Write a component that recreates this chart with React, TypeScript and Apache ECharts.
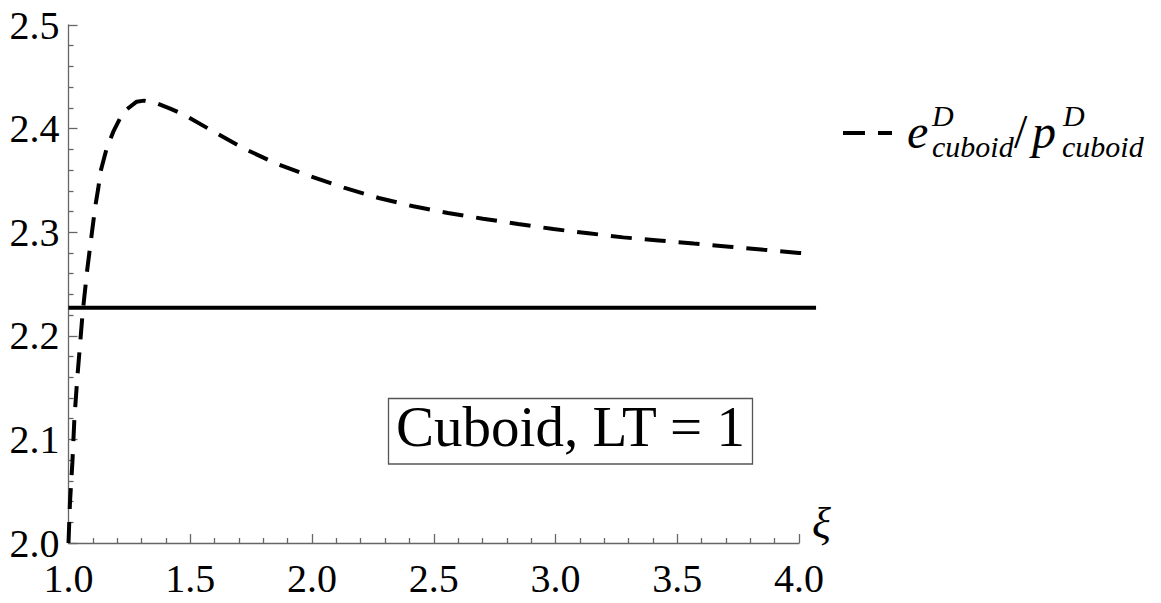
import React, { useEffect, useRef } from "react";
import * as echarts from "echarts";

// e^D_cuboid / p^D_cuboid as a function of xi
const curveX = [
  1.0, 1.006, 1.016, 1.024, 1.036, 1.058, 1.077, 1.098, 1.11, 1.122, 1.132,
  1.157, 1.184, 1.225, 1.28, 1.31, 1.362, 1.42, 1.478, 1.589, 1.719, 1.855,
  1.992, 2.131, 2.274, 2.416, 2.558, 2.702, 2.846, 2.991, 3.135, 3.278, 3.424,
  3.568, 3.713, 3.856, 4.0, 4.048,
];
const curveY = [
  2.0, 2.039, 2.078, 2.119, 2.159, 2.222, 2.264, 2.303, 2.325, 2.342, 2.359,
  2.381, 2.397, 2.416, 2.426, 2.427, 2.4245, 2.419, 2.413, 2.398, 2.381, 2.366,
  2.354, 2.343, 2.333, 2.325, 2.3185, 2.313, 2.308, 2.303, 2.299, 2.295, 2.292,
  2.289, 2.286, 2.283, 2.28, 2.279,
];

// constant reference level (solid line)
const refX = [1.0, 4.07];
const refY = [2.227, 2.227];

const xMin = 1.0;
const xMax = 4.0;
const xStep = 0.5;
const xPlotMax = 4.07; // plotted curves run slightly past the last tick
const yMin = 2.0;
const yMax = 2.5;
const yStep = 0.1;

const boxLabel = "Cuboid, LT = 1";
const axisName = "ξ";

const SERIF = "Liberation Serif";
const AXIS_COLOR = "#666";

function txt(x: number, y: number, text: string, size: number, italic: boolean, align = "left", z = 5) {
  return {
    type: "text",
    x,
    y,
    z,
    style: {
      text,
      font: `${italic ? "italic " : ""}${size}px ${SERIF}`,
      fill: "#000",
      align,
      verticalAlign: "middle",
    },
  };
}

export default function App() {
  const ref = useRef<HTMLDivElement>(null);

  useEffect(() => {
    if (!ref.current) return;
    const chart = echarts.init(ref.current, undefined, { renderer: "svg" });

    const curveData = curveX.map((x, i) => [x, curveY[i]]);
    const refData = refX.map((x, i) => [x, refY[i]]);

    const left = 68.5;
    const plotW = 730.5; // width of the framed axis range (1.0 .. 4.0)
    const pxPerUnit = plotW / (xMax - xMin);
    const right0 = 1161 - left - plotW;
    const right1 = 1161 - left - (xPlotMax - xMin) * pxPerUnit;

    const axisCommon = {
      type: "value" as const,
      splitLine: { show: false },
      minorSplitLine: { show: false },
      axisLine: { show: true, onZero: false, lineStyle: { color: AXIS_COLOR, width: 1.3 } },
      axisTick: { show: true, inside: true, length: 9, lineStyle: { color: AXIS_COLOR, width: 1.3 } },
      minorTick: { show: true, splitNumber: 5, length: 5, lineStyle: { color: AXIS_COLOR, width: 1.3 } },
    };

    const labelCommon = {
      show: true,
      showMinLabel: true,
      showMaxLabel: true,
      color: "#000",
      fontFamily: SERIF,
      fontSize: 40,
      lineHeight: 40,
      formatter: (v: number) => v.toFixed(1),
    };

    const hidden = {
      type: "value" as const,
      show: false,
      splitLine: { show: false },
    };

    chart.setOption({
      animation: false,
      backgroundColor: "#fff",
      textStyle: { fontFamily: SERIF },
      grid: [
        { left, right: right0, top: 25, bottom: 60 },
        { left, right: right1, top: 25, bottom: 60 },
      ],
      xAxis: [
        {
          ...axisCommon,
          gridIndex: 0,
          min: xMin,
          max: xMax,
          interval: xStep,
          axisLabel: { ...labelCommon, margin: 15 },
        },
        { ...hidden, gridIndex: 1, min: xMin, max: xPlotMax },
      ],
      yAxis: [
        {
          ...axisCommon,
          gridIndex: 0,
          min: yMin,
          max: yMax,
          interval: yStep,
          axisLabel: { ...labelCommon, margin: 9 },
        },
        { ...hidden, gridIndex: 1, min: yMin, max: yMax },
      ],
      series: [
        {
          type: "line",
          xAxisIndex: 1,
          yAxisIndex: 1,
          data: refData,
          symbol: "none",
          lineStyle: { color: "#000", width: 4, type: "solid" },
          z: 3,
        },
        {
          type: "line",
          xAxisIndex: 1,
          yAxisIndex: 1,
          data: curveData,
          symbol: "none",
          lineStyle: { color: "#000", width: 4, type: [21, 13] },
          z: 4,
        },
      ],
      graphic: [
        // axis name
        txt(812, 523, axisName, 44, true),
        // annotation box
        {
          type: "rect",
          shape: { x: 388.5, y: 398.5, width: 364, height: 65.5 },
          style: { fill: "#fff", stroke: "#555", lineWidth: 1.3 },
          z: 10,
        },
        txt(570.5, 426, boxLabel, 57, false, "center", 11),
        // legend sample
        {
          type: "line",
          shape: { x1: 843, y1: 133, x2: 892, y2: 133 },
          style: { stroke: "#000", lineWidth: 4, lineDash: [22, 13] },
        },
        txt(907, 131, "e", 48, true),
        txt(932, 115, "D", 30, true),
        txt(932, 146, "cuboid", 30, true),
        txt(1014, 131, "/", 48, false),
        txt(1032, 131, "p", 48, true),
        txt(1063, 115, "D", 30, true),
        txt(1062, 146, "cuboid", 30, true),
      ],
    });

    return () => chart.dispose();
  }, []);

  return (
    <div
      ref={ref}
      style={{ position: "absolute", left: 0, top: 0, width: 1161, height: 603, background: "#fff" }}
    />
  );
}
